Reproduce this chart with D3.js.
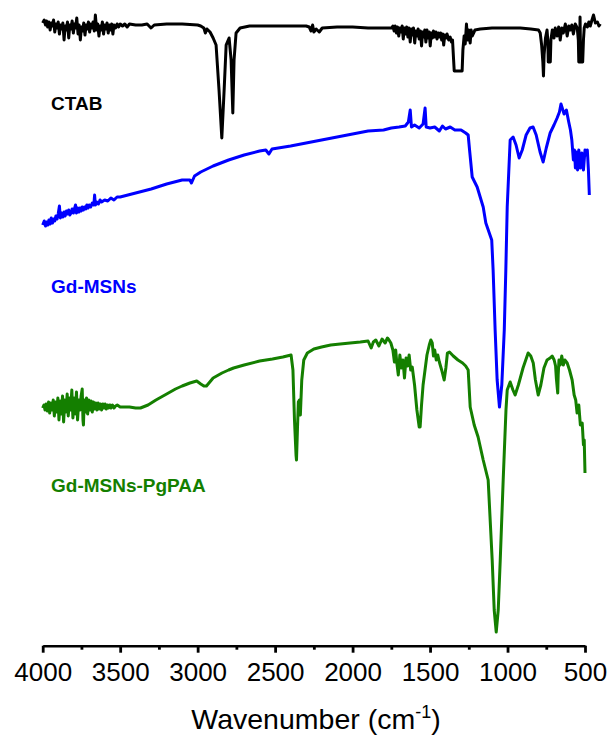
<!DOCTYPE html>
<html>
<head>
<meta charset="utf-8">
<script src="https://cdn.jsdelivr.net/npm/d3@7"></script>
<style>
  body { margin: 0; background: #fff; }
  text { font-family: "Liberation Sans", Arial, sans-serif; }
</style>
</head>
<body>
<svg id="chart" width="611" height="742"></svg>
<script>
// FTIR spectra, [wavenumber cm-1, transmittance a.u.] (curves offset vertically)
var ctab = [
  [4000,623],[3990,626],[3982,621],[3975,625],[3968,619],[3960,624],[3952,616],[3945,623],
  [3938,620],[3930,626],[3922,614],[3915,622],[3908,618],[3900,624],[3892,612],[3885,621],
  [3878,617],[3870,623],[3862,606],[3855,620],[3848,616],[3840,624],[3832,608],[3825,621],
  [3818,617],[3810,625],[3802,613],[3795,622],[3788,618],[3780,628],[3772,612],[3765,621],
  [3757,606],[3750,619],[3743,615],[3735,623],[3727,611],[3720,621],[3712,617],[3705,624],
  [3697,614],[3690,622],[3682,618],[3675,624],[3667,615],[3660,631],[3652,616],[3645,622],
  [3637,610],[3630,620],[3622,616],[3615,624],[3607,612],[3600,621],[3592,617],[3585,623],
  [3577,613],[3570,621],[3562,616],[3555,622],[3547,612],[3540,621],[3530,618],[3520,622],
  [3510,619],[3500,622],[3485,620],[3470,622],[3455,619],[3440,622],[3400,621],[3360,621],
  [3326,622],[3301,618],[3280,621],[3200,622],[3100,622],[3000,621],[2980,620],[2960,618],
  [2950,613],[2940,617],[2920,614],[2900,608],[2881,601],[2862,556],[2844,508],[2829,556],
  [2816,601],[2797,608],[2784,586],[2773,533],[2765,586],[2752,613],[2726,618],[2665,620],
  [2500,620],[2300,620],[2280,619],[2268,615],[2258,621],[2250,614],[2235,617],[2215,614],
  [2196,618],[2100,619],[2000,619],[1900,618],[1800,618],[1749,618],[1740,620],[1732,615],
  [1725,620],[1717,613],[1710,619],[1702,610],[1695,618],[1688,614],[1680,620],[1673,607],
  [1666,618],[1658,612],[1651,619],[1643,609],[1636,618],[1628,604],[1621,617],[1614,611],
  [1607,618],[1599,603],[1592,615],[1585,610],[1577,617],[1570,607],[1562,615],[1555,600],
  [1548,614],[1541,609],[1534,616],[1527,604],[1520,616],[1512,608],[1505,614],[1499,600],
  [1492,613],[1485,608],[1478,615],[1470,609],[1462,614],[1455,607],[1447,613],[1440,609],
  [1432,613],[1425,606],[1418,612],[1412,601],[1405,611],[1397,608],[1390,612],[1380,606],
  [1370,609],[1362,604],[1355,606],[1348,586],[1344,575],[1318,575],[1293,575],[1288,596],
  [1280,610],[1273,602],[1265,622],[1258,606],[1250,616],[1241,603],[1235,616],[1228,610],
  [1210,616],[1176,617],[1100,618],[1047,618],[980,618],[918,618],[850,617],[800,616],
  [789,613],[780,601],[772,584],[768,570],[764,591],[755,608],[745,616],[740,606],
  [737,584],[724,584],[720,606],[711,616],[700,608],[692,618],[680,610],[670,619],
  [660,606],[650,618],[640,613],[627,622],[615,610],[605,620],[595,616],[585,621],
  [575,612],[563,622],[550,618],[543,606],[540,584],[535,584],[532,629],[528,584],
  [515,584],[510,606],[505,618],[497,622],[485,619],[475,624],[466,620],[455,626],
  [445,631],[433,623],[420,624],[410,620],[401,622]
];

var gdMsns = [
  [4000,421],[3990,425],[3982,420],[3975,424],[3967,421],[3960,426],[3952,422],[3945,428],
  [3937,423],[3930,427],[3922,425],[3915,430],[3907,427],[3900,432],[3892,440],[3886,428],
  [3878,433],[3870,429],[3862,434],[3855,430],[3847,435],[3840,432],[3832,436],[3825,431],
  [3817,433],[3810,437],[3802,433],[3795,437],[3788,441],[3782,433],[3775,438],[3767,434],
  [3760,438],[3752,435],[3745,439],[3737,436],[3730,439],[3722,437],[3715,441],[3707,438],
  [3700,441],[3690,439],[3680,443],[3670,441],[3665,451],[3660,441],[3650,444],[3640,442],
  [3630,446],[3620,444],[3600,446],[3580,445],[3560,448],[3540,446],[3520,449],[3500,449],
  [3400,453],[3300,457],[3200,462],[3100,466],[3050,466],[3040,463],[3020,470],[2980,474],
  [2900,480],[2800,486],[2700,491],[2600,495],[2560,496],[2540,492],[2520,497],[2400,500],
  [2300,503],[2200,506],[2100,509],[2000,512],[1900,515],[1800,516],[1750,518],[1700,519],
  [1660,520],[1640,524],[1628,536],[1620,519],[1600,521],[1570,518],[1545,522],[1532,538],
  [1525,519],[1500,518],[1470,519],[1440,515],[1420,520],[1400,517],[1370,519],[1340,516],
  [1300,516],[1270,513],[1254,511],[1245,496],[1228,469],[1196,459],[1157,439],[1140,423],
  [1102,406],[1093,376],[1080,316],[1067,266],[1052,239],[1037,261],[1021,316],[1011,376],
  [1002,439],[983,506],[964,509],[945,501],[925,488],[905,496],[880,511],[855,518],
  [835,519],[815,511],[790,494],[770,484],[750,498],[725,513],[700,521],[680,528],
  [665,534],[655,542],[647,538],[635,532],[620,536],[605,524],[594,516],[585,506],
  [575,486],[568,496],[562,478],[555,494],[548,476],[540,496],[530,478],[520,493],
  [510,476],[500,496],[490,491],[485,496],[478,476],[472,451]
];

var gdMsnsPgpaa = [
  [4000,238],[3992,241],[3985,236],[3978,242],[3970,235],[3962,244],[3955,233],[3947,243],
  [3940,236],[3932,246],[3925,230],[3917,244],[3910,234],[3902,248],[3895,226],[3887,245],
  [3880,232],[3872,250],[3865,224],[3857,246],[3850,234],[3842,252],[3835,230],[3827,248],
  [3820,236],[3812,256],[3805,228],[3797,248],[3790,232],[3782,254],[3775,226],[3767,246],
  [3760,236],[3752,250],[3745,257],[3740,226],[3737,221],[3732,246],[3725,234],[3717,248],
  [3710,232],[3702,246],[3695,236],[3687,245],[3680,234],[3672,244],[3665,237],[3657,243],
  [3650,236],[3642,243],[3635,237],[3627,242],[3620,236],[3612,242],[3605,238],[3597,242],
  [3590,237],[3582,241],[3575,238],[3567,241],[3560,238],[3550,241],[3540,238],[3530,240],
  [3519,241],[3500,239],[3480,239],[3440,239],[3400,238],[3369,238],[3320,241],[3269,246],
  [3200,252],[3143,257],[3100,260],[3050,263],[3006,265],[2980,262],[2960,260],[2943,260],
  [2900,268],[2843,273],[2800,276],[2768,278],[2700,281],[2600,285],[2517,287],[2450,289],
  [2397,291],[2385,276],[2375,226],[2365,191],[2362,186],[2356,216],[2350,244],[2343,246],
  [2337,231],[2328,266],[2315,286],[2292,293],[2250,297],[2200,299],[2141,301],[2080,302],
  [2016,303],[1950,304],[1900,305],[1880,298],[1866,304],[1850,306],[1830,300],[1810,307],
  [1790,303],[1775,308],[1765,306],[1753,303],[1740,296],[1730,284],[1722,296],[1715,284],
  [1705,271],[1695,291],[1685,278],[1675,286],[1665,268],[1655,288],[1645,280],[1635,291],
  [1625,276],[1615,279],[1600,261],[1585,236],[1570,219],[1564,219],[1555,241],[1545,261],
  [1535,273],[1520,291],[1505,301],[1495,306],[1486,303],[1478,290],[1470,296],[1460,286],
  [1450,291],[1440,284],[1425,276],[1409,266],[1398,278],[1388,293],[1375,294],[1350,290],
  [1320,286],[1290,283],[1270,280],[1254,276],[1241,239],[1215,221],[1190,209],[1157,186],
  [1125,166],[1099,86],[1086,36],[1073,14],[1060,36],[1047,86],[1028,166],[1010,236],
  [1002,256],[983,264],[965,256],[951,251],[930,261],[900,278],[867,293],[850,290],
  [834,283],[820,266],[802,251],[785,261],[765,278],[745,286],[725,288],[712,290],
  [699,286],[690,280],[685,268],[676,253],[673,271],[668,286],[660,281],[650,290],
  [640,281],[630,286],[615,283],[600,276],[583,266],[570,251],[560,246],[551,233],
  [540,241],[530,221],[518,223],[510,201],[505,206],[500,173]
];

var seriesNames = ["CTAB", "Gd-MSNs", "Gd-MSNs-PgPAA"];
var seriesColors = ["#000000", "#0000ff", "#147f00"];
var majorTicks = [4000, 3500, 3000, 2500, 2000, 1500, 1000, 500];
var minorTicks = [3750, 3250, 2750, 2250, 1750, 1250, 750];

var svg = d3.select("#chart");

var x = d3.scaleLinear().domain([4000, 500]).range([42.7, 585]);
var y = d3.scaleLinear().domain([0, 646]).range([646, 0]);

var line = d3.line()
  .x(function(d) { return x(d[0]); })
  .y(function(d) { return y(d[1]); });

svg.selectAll("path.spec")
  .data([ctab, gdMsns, gdMsnsPgpaa])
  .enter()
  .append("path")
  .attr("class", "spec")
  .attr("d", line)
  .attr("fill", "none")
  .attr("stroke", function(d, i) { return seriesColors[i]; })
  .attr("stroke-width", 3)
  .attr("stroke-linejoin", "round");

// sample labels
var labelPos = [[51, 110], [51, 293], [51, 492]];
svg.selectAll("text.lbl")
  .data(seriesNames)
  .enter()
  .append("text")
  .attr("class", "lbl")
  .attr("x", function(d, i) { return labelPos[i][0]; })
  .attr("y", function(d, i) { return labelPos[i][1]; })
  .attr("fill", function(d, i) { return seriesColors[i]; })
  .style("font-size", "19px")
  .style("font-weight", "bold")
  .text(function(d) { return d; });

// x axis: minor ticks first, then major ticks with labels
var axisY = 645.7;
svg.append("g")
  .attr("transform", "translate(0," + axisY + ")")
  .call(d3.axisBottom(x).tickValues(minorTicks).tickSize(4).tickFormat(""))
  .call(function(g) {
    g.select(".domain").remove();
    g.selectAll("line").attr("stroke-width", 2.8);
  });

var xAxis = svg.append("g")
  .attr("transform", "translate(0," + axisY + ")")
  .call(d3.axisBottom(x).tickValues(majorTicks).tickSize(7).tickSizeOuter(0).tickPadding(10)
    .tickFormat(d3.format("d")));
xAxis.select(".domain").attr("stroke-width", 2.6);
xAxis.selectAll("line").attr("stroke-width", 2.8);
xAxis.selectAll("text")
  .style("font-size", "26px")
  .style("font-family", "'Liberation Sans', Arial, sans-serif")
  .attr("fill", "#000");

var title = svg.append("text")
  .attr("x", 316)
  .attr("y", 729)
  .attr("text-anchor", "middle")
  .style("font-size", "28.5px");
title.append("tspan").text("Wavenumber (cm");
title.append("tspan").attr("dy", -11).style("font-size", "18px").text("-1");
title.append("tspan").attr("dy", 11).text(")");
</script>
</body>
</html>
